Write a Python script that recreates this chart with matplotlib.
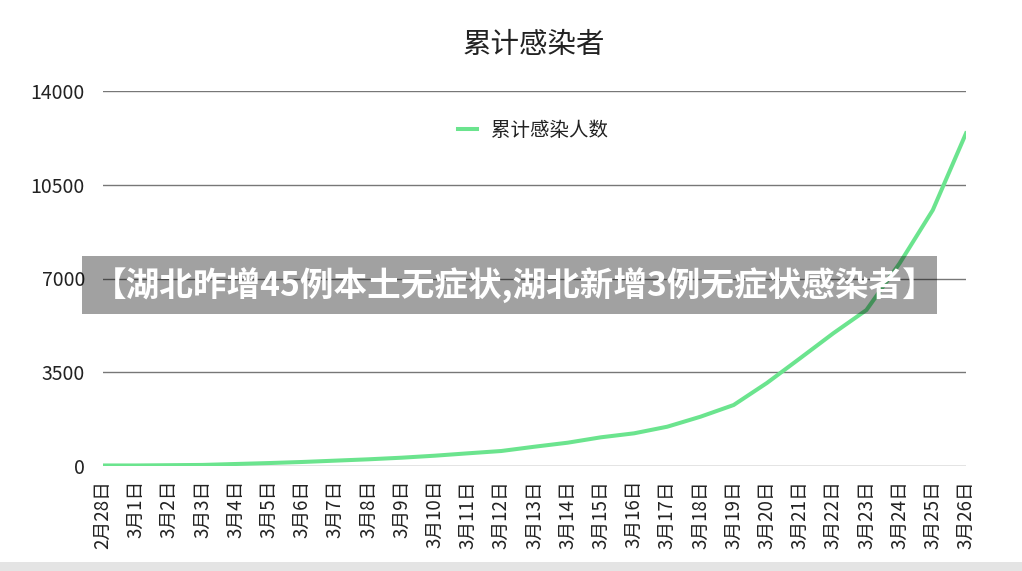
import matplotlib
matplotlib.use("Agg")
import matplotlib.pyplot as plt
from matplotlib.patches import Rectangle

plt.rcParams['font.family'] = ['Noto Sans CJK SC', 'DejaVu Sans']

dates = ["2月28日"] + [f"3月{d}日" for d in range(1, 27)]
cumulative = [20, 20, 30, 40, 75, 110, 150, 200, 250, 310, 385, 474, 560,
              720, 870, 1071, 1220, 1467, 1840, 2277, 3098, 4020, 4953,
              5823, 7567, 9556, 12420]
yticks = [0, 3500, 7000, 10500, 14000]
title = "累计感染者"
series_name = "累计感染人数"
banner = "【湖北昨增45例本土无症状,湖北新增3例无症状感染者】"

fig = plt.figure(figsize=(10.22, 5.71), dpi=100)
ax = fig.add_axes([103/1022, 1-466/571, (966-103)/1022, (466-91)/571])

x = list(range(len(dates)))
ax.plot(x, cumulative, color='#6be48e', lw=2.9, label=series_name,
        solid_joinstyle='round', zorder=3)

ax.set_xlim(0, len(dates)-1)
ax.set_ylim(0, 14000)
ax.set_yticks(yticks)
ax.set_yticklabels([str(v) for v in yticks], fontsize=14, color='#222222')
ax.set_xticks(x)
ax.set_xticklabels(dates, rotation=90, fontsize=13.5, color='#222222',
                   va='top', ha='center')
ax.tick_params(axis='both', length=0)
ax.tick_params(axis='y', pad=13)
ax.tick_params(axis='x', pad=10)
for s in ax.spines.values():
    s.set_visible(False)
ax.yaxis.grid(True, color='#777777', lw=1.0)
ax.set_axisbelow(True)

fig.text(534/1022, 1-45/571, title, ha='center', va='center', fontsize=20.5,
         color='#222222')

leg = ax.legend(loc='center', bbox_to_anchor=((533-103)/(966-103), (466-130)/(466-91)),
                frameon=False, fontsize=14, handlelength=1.0, handletextpad=0.7)
for t in leg.get_texts():
    t.set_color('#222222')

# banner overlay
fig.patches.append(Rectangle((82/1022, 1-314/571), (937-82)/1022, (314-256)/571,
                             transform=fig.transFigure, facecolor='black',
                             alpha=0.37, edgecolor='none', zorder=10))
fig.text(515/1022, 1-286/571, banner, ha='center', va='center', fontsize=24.2,
         color='white', fontweight='heavy', zorder=11)

# bottom strip
fig.patches.append(Rectangle((0, 0), 1, 9/571, transform=fig.transFigure,
                             facecolor='#e4e4e4', edgecolor='none', zorder=10))

fig.savefig("out.png", dpi=100)
